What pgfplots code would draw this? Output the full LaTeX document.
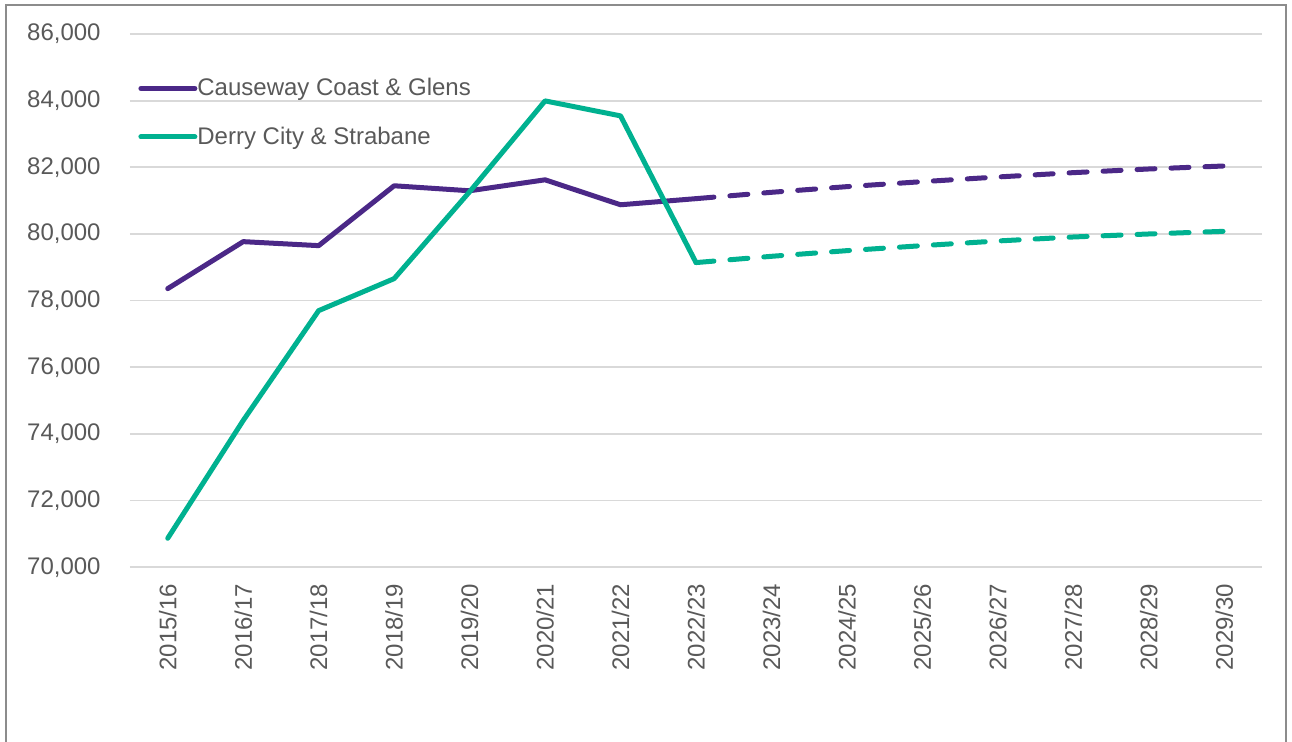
\documentclass[border=0pt]{standalone}
\usepackage{pgfplots}
\pgfplotsset{compat=1.18}
\usepackage{fontspec}
\setmainfont{Liberation Sans}
\definecolor{cpurple}{HTML}{4B2887}
\definecolor{cteal}{HTML}{00B190}
\definecolor{tgray}{HTML}{595959}
\definecolor{ggray}{HTML}{D9D9D9}
\definecolor{fgray}{HTML}{8C8C8C}
\begin{document}
\begin{tikzpicture}
\useasboundingbox (0pt,0pt) rectangle (646pt,371pt);
\draw[fgray, line width=0.9pt] (3pt,0pt) -- (3pt,368.5pt) -- (643pt,368.5pt) -- (643pt,0pt);
\begin{axis}[
  at={(65pt,87.35pt)}, anchor=south west,
  width=566pt, height=266.65pt, scale only axis,
  xmin=-0.5, xmax=14.5, ymin=70000, ymax=86000,
  xtick={0,...,14},
  xticklabels={2015/16,2016/17,2017/18,2018/19,2019/20,2020/21,2021/22,2022/23,2023/24,2024/25,2025/26,2026/27,2027/28,2028/29,2029/30},
  ytick={70000,72000,...,86000},
  scaled y ticks=false,
  ymajorgrids, grid style={ggray, line width=0.85pt},
  axis line style={draw=none},
  major tick length=0pt,
  tick label style={font=\fontsize{12}{14}\selectfont, text=tgray},
  /pgf/number format/assume math mode=true,
  /pgf/number format/.cd, 1000 sep={,}, /pgfplots/.cd,
  yticklabel style={anchor=east, inner sep=0pt},
  yticklabel shift=14.5pt,
  xticklabel style={rotate=90, anchor=east, inner sep=0pt},
  xticklabel shift=8pt,
  legend style={at={(0,1)}, anchor=north west, xshift=4pt, yshift=-22pt,
    draw=none, fill=none, inner sep=0pt,
    font=\fontsize{12}{14}\selectfont, text=tgray,
    nodes={inner sep=0pt, anchor=west}, row sep=14pt, column sep=0pt},
  legend cell align=left,
  legend image code/.code={\draw[#1] (0pt,0pt) -- (27pt,0pt);},
  every axis plot/.append style={line width=2.5pt, line cap=round, line join=round},
]
\addplot[cpurple] coordinates {(0,78360) (1,79770) (2,79650) (3,81446) (4,81296) (5,81625) (6,80876) (7,81060)};
\addlegendentry{Causeway Coast \& Glens}
\addplot[cteal] coordinates {(0,70870) (1,74404) (2,77700) (3,78660) (4,81266) (5,83993) (6,83543) (7,79142)};
\addlegendentry{Derry City \& Strabane}
\addplot[cpurple, dash pattern=on 9pt off 8pt, forget plot] coordinates {(7,81060) (8,81250) (9,81420) (10,81570) (11,81710) (12,81840) (13,81950) (14,82040)};
\addplot[cteal, dash pattern=on 9pt off 8pt, forget plot] coordinates {(7,79142) (8,79330) (9,79500) (10,79650) (11,79790) (12,79910) (13,80000) (14,80080)};
\end{axis}
\end{tikzpicture}
\end{document}
